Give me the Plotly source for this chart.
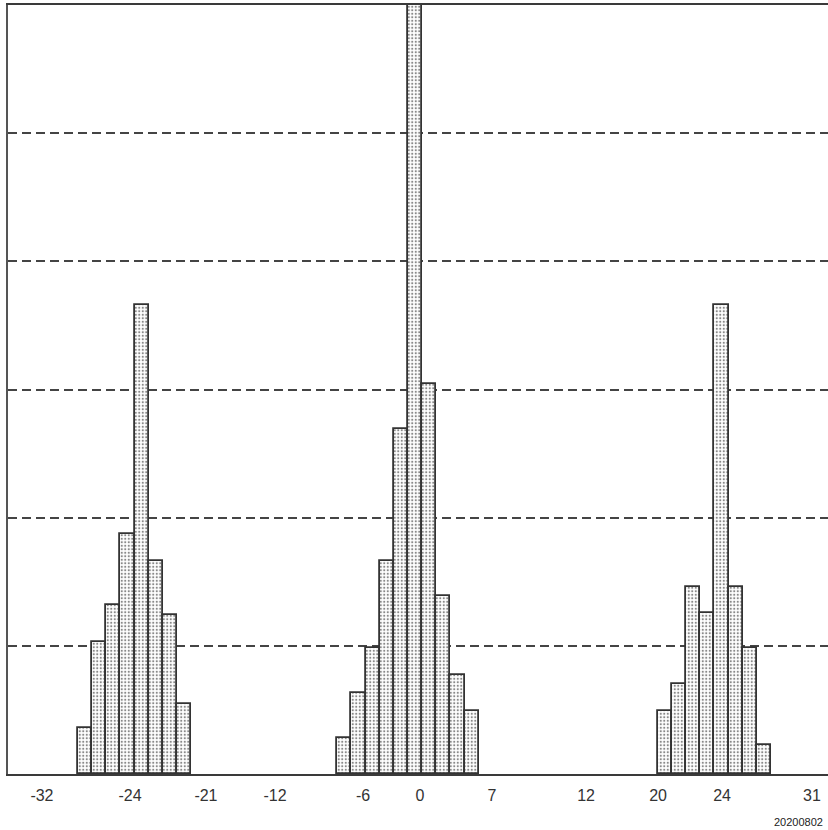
import plotly.graph_objects as go

# Bin counts for the three clusters (bar heights, one unit per gridline step)
left_heights = [0.36, 1.03, 1.32, 1.875, 3.66, 1.66, 1.24, 0.55]
center_heights = [0.28, 0.63, 0.98, 1.66, 2.69, 6.3, 3.04, 1.39, 0.77, 0.49]
right_heights = [0.49, 0.70, 1.46, 1.26, 3.66, 1.46, 0.98, 0.23]

# First bin edge of each cluster along the horizontal axis (bin-width units)
left_start = 4.95
center_start = 23.27
right_start = 45.92

# Axis tick labels and where they sit (bin-width units)
tick_labels = ["-32", "-24", "-21", "-12", "-6", "0", "7", "12", "20", "24", "31"]
tick_positions = [2.40, 8.62, 13.99, 18.87, 25.09, 29.12, 34.20, 40.85, 45.94, 50.46, 56.82]

date_label = "20200802"


def centers(start, values):
    return [start + i + 0.5 for i in range(len(values))]


bar_style = dict(
    color="white",
    line=dict(color="#333333", width=1.8),
    pattern=dict(shape=".", fgcolor="#111111", bgcolor="white", size=3.5, solidity=0.3),
)

fig = go.Figure()
for start, vals in [(left_start, left_heights), (center_start, center_heights), (right_start, right_heights)]:
    fig.add_trace(go.Bar(x=centers(start, vals), y=vals, width=1.0, marker=bar_style, showlegend=False))

fig.update_layout(
    width=828,
    height=830,
    margin=dict(l=8, r=0, t=5, b=56),
    paper_bgcolor="white",
    plot_bgcolor="white",
    bargap=0,
    xaxis=dict(
        range=[0, 57.95],
        tickmode="array",
        tickvals=tick_positions,
        ticktext=tick_labels,
        showgrid=False,
        zeroline=False,
        showline=True,
        linecolor="#3a3a3a",
        linewidth=2,
        mirror=True,
        ticks="",
        ticklabelstandoff=6,
        tickfont=dict(family="Liberation Sans Narrow, Arial Narrow, sans-serif", size=16, color="#333333"),
    ),
    yaxis=dict(
        range=[0, 6],
        tickvals=[1, 2, 3, 4, 5],
        showticklabels=False,
        showgrid=True,
        gridcolor="#444444",
        gridwidth=1.5,
        griddash="9px,5px",
        zeroline=False,
        showline=True,
        linecolor="#555555",
        linewidth=1.5,
        ticks="",
    ),
    annotations=[
        dict(
            text=date_label,
            xref="paper", yref="paper",
            x=0.996, y=-0.0625,
            xanchor="right", yanchor="middle",
            showarrow=False,
            font=dict(family="Liberation Sans, Arial, sans-serif", size=11, color="#222222"),
        )
    ],
)

fig.write_html("out.html")
